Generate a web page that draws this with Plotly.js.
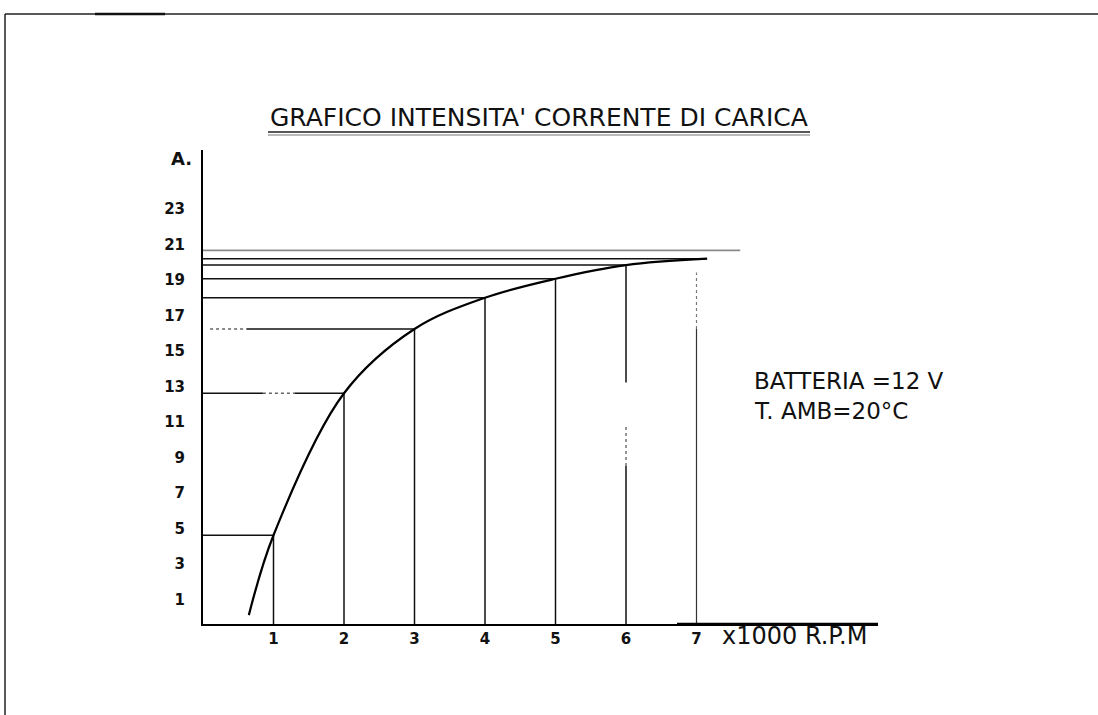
<!DOCTYPE html>
<html>
<head>
<meta charset="utf-8">
<script src="https://cdn.plot.ly/plotly-3.0.1.min.js"></script>
<style>
  html, body { margin: 0; padding: 0; background: #fff; }
  #chart { width: 1098px; height: 715px; }
</style>
</head>
<body>
<div id="chart"></div>
<script>
// ---- data ----
// charge-current curve: rpm (x1000) vs current (A)
const curveRpm     = [0.65, 1, 2, 3, 4, 5, 6, 7.15];
const curveCurrent = [0.5, 5.0, 13.0, 16.62, 18.38, 19.45, 20.22, 20.58];

// reference marks at each 1000 rpm
const markRpm     = [1, 2, 3, 4, 5, 6];
const markCurrent = [5.0, 13.0, 16.62, 18.38, 19.45, 20.22];

// extra horizontal reference lines near the top
const topLineCurrent = [21.05, 20.58];
const topLineEndRpm  = [7.62, 7.15];

// dotted vertical guide at 7000 rpm
const guide7Rpm = 7;
const guide7Top = 19.8;

const xTickVals = [1, 2, 3, 4, 5, 6, 7];
const xTickText = ['1', '2', '3', '4', '5', '6', '7'];
const yTickVals = [1, 3, 5, 7, 9, 11, 13, 15, 17, 19, 21, 23];
const yTickText = ['1', '3', '5', '7', '9', '11', '13', '15', '17', '19', '21', '23'];

// ---- layout geometry (pixels) ----
const L = 203, R = 220, T = 150, B = 91;
const W = 1098, H = 715;
const plotW = W - L - R, plotH = H - T - B;
const pxPerX = 70.5, pxPerY = 17.75;
const xMax = plotW / pxPerX, yMax = plotH / pxPerY;
const pX = px => (px - L) / plotW;
const pY = py => (H - B - py) / plotH;

const traces = [];
const solid = {color: '#111', width: 1.5};
const dotted = {color: '#666', width: 1.4, dash: 'dot'};
const seg = (x0, x1, y0, y1, line) =>
  traces.push({x: [x0, x1], y: [y0, y1], mode: 'lines', line: line, hoverinfo: 'skip'});

// vertical lines from axis up to the curve (the one at 6000 rpm is broken in the scan)
markRpm.forEach((r, i) => {
  if (i === 5) {
    seg(r, r, 0, 8.9, solid);
    seg(r, r, 8.9, 11.1, dotted);
    seg(r, r, 13.6, markCurrent[i], solid);
  } else {
    seg(r, r, 0, markCurrent[i], solid);
  }
});
// horizontal lines from y axis to the curve (some partly faded in the scan)
markRpm.forEach((r, i) => {
  const c = markCurrent[i];
  if (i === 1) {
    seg(0, 0.85, c, c, solid);
    seg(0.85, 1.3, c, c, dotted);
    seg(1.3, r, c, c, solid);
  } else if (i === 2) {
    seg(0.1, 0.62, c, c, dotted);
    seg(0.62, r, c, c, solid);
  } else {
    seg(0, r, c, c, solid);
  }
});
// top lines
seg(0, topLineEndRpm[0], topLineCurrent[0], topLineCurrent[0], {color: '#8a8a8a', width: 1.6});
seg(0, topLineEndRpm[1], topLineCurrent[1], topLineCurrent[1], {color: '#111', width: 1.4});
// 7000 rpm guide: solid lower part, dotted upper part
seg(guide7Rpm, guide7Rpm, 0, markCurrent[2], {color: '#333', width: 1.2});
seg(guide7Rpm, guide7Rpm, markCurrent[2], guide7Top, {color: '#777', width: 1.2, dash: 'dot'});
// curve
traces.push({x: curveRpm, y: curveCurrent, mode: 'lines',
  line: {color: '#000', width: 2.2, shape: 'spline', smoothing: 1.0}, hoverinfo: 'skip'});

const txtFont = {family: 'DejaVu Sans, sans-serif', color: '#111'};
const tickFont = {family: 'DejaVu Sans, sans-serif', size: 15, weight: 'bold', color: '#111'};

const layout = {
  width: W, height: H,
  margin: {l: L, r: R, t: T, b: B, pad: 0},
  paper_bgcolor: '#fff', plot_bgcolor: '#fff',
  showlegend: false,
  xaxis: {
    range: [0, xMax], showgrid: false, zeroline: false,
    showline: true, linecolor: '#000', linewidth: 2,
    tickvals: xTickVals, ticktext: xTickText, ticks: '',
    tickfont: tickFont, fixedrange: true
  },
  yaxis: {
    range: [0, yMax], showgrid: false, zeroline: false,
    showline: true, linecolor: '#000', linewidth: 2,
    tickvals: yTickVals, ticktext: yTickText, ticks: '',
    ticklabelshift: -7, ticklabelstandoff: 13,
    tickfont: tickFont, fixedrange: true
  },
  shapes: [
    // page frame
    {type: 'line', xref: 'paper', yref: 'paper', x0: pX(5), x1: pX(1098), y0: pY(14), y1: pY(14),
      line: {color: '#222', width: 1.5}},
    {type: 'line', xref: 'paper', yref: 'paper', x0: pX(5), x1: pX(5), y0: pY(14), y1: pY(715),
      line: {color: '#222', width: 1.5}},
    {type: 'line', xref: 'paper', yref: 'paper', x0: pX(95), x1: pX(165), y0: pY(14), y1: pY(14),
      line: {color: '#111', width: 2.5}},
    // title underline
    {type: 'line', xref: 'paper', yref: 'paper', x0: pX(268), x1: pX(810), y0: pY(132), y1: pY(132),
      line: {color: '#222', width: 1.5}},
    {type: 'line', xref: 'paper', yref: 'paper', x0: pX(268), x1: pX(810), y0: pY(135), y1: pY(135),
      line: {color: '#777', width: 1}},
    // heavier right part of x axis
    {type: 'line', xref: 'paper', yref: 'paper', x0: pX(677), x1: pX(878), y0: 0, y1: 0,
      line: {color: '#000', width: 2.5}}
  ],
  annotations: [
    {text: "GRAFICO INTENSITA' CORRENTE DI CARICA", xref: 'paper', yref: 'paper',
      x: pX(539), y: pY(118), xanchor: 'center', yanchor: 'middle', showarrow: false,
      font: Object.assign({size: 25}, txtFont)},
    {text: 'A.', xref: 'paper', yref: 'paper', x: pX(194), y: pY(158), xanchor: 'right', yanchor: 'middle',
      showarrow: false, font: {family: 'DejaVu Sans, sans-serif', size: 18, weight: 'bold', color: '#111'}},
    {text: 'x1000 R.P.M', xref: 'paper', yref: 'paper', x: pX(720), y: pY(636), xanchor: 'left', yanchor: 'middle',
      showarrow: false, font: Object.assign({size: 24}, txtFont)},
    {text: 'BATTERIA =12 V', xref: 'paper', yref: 'paper', x: pX(752), y: pY(381), xanchor: 'left', yanchor: 'middle',
      showarrow: false, font: Object.assign({size: 23}, txtFont)},
    {text: 'T. AMB=20°C', xref: 'paper', yref: 'paper', x: pX(752), y: pY(411), xanchor: 'left', yanchor: 'middle',
      showarrow: false, font: Object.assign({size: 23}, txtFont)}
  ]
};

Plotly.newPlot('chart', traces, layout, {displayModeBar: false, staticPlot: true});
</script>
</body>
</html>
